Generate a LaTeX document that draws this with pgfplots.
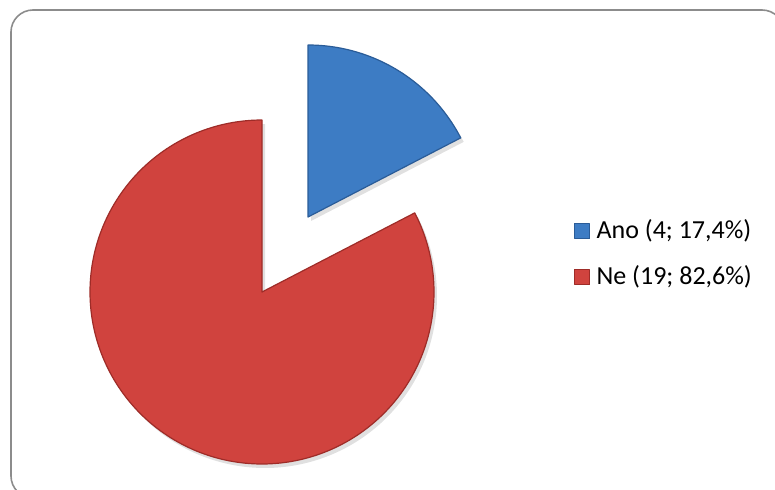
\documentclass[border=0pt]{standalone}
\usepackage{pgfplots}
\pgfplotsset{compat=1.18}
\usepackage{pgfplotstable}
\usepackage{fontspec}
\setmainfont{Carlito}
\definecolor{anoblue}{RGB}{61,124,196}
\definecolor{anoedge}{RGB}{42,92,152}
\definecolor{nered}{RGB}{208,67,62}
\definecolor{needge}{RGB}{158,44,40}
\definecolor{framegray}{RGB}{140,140,140}
\pgfplotstableread{
label value
Ano 4
Ne 19
}\piedata
\begin{document}
\begin{tikzpicture}
\pgfplotstablegetelem{0}{value}\of\piedata \let\va\pgfplotsretval
\pgfplotstablegetelem{1}{value}\of\piedata \let\vb\pgfplotsretval
\pgfmathsetmacro\tot{\va+\vb}
\pgfmathsetmacro\aa{90-360*\va/\tot}
\pgfmathsetmacro\ab{\aa-360*\vb/\tot}
\useasboundingbox (0,0) rectangle (775bp,490bp);
\begin{axis}[at={(0,0)}, anchor=south west, scale only axis,
  width=775bp, height=490bp, xmin=0, xmax=775, ymin=0, ymax=490,
  axis lines=none, clip=false,
  legend cell align=left,
  legend style={at={(0.7368,0.4816)}, anchor=west, draw=none, fill=none,
    font=\fontsize{26bp}{30bp}\selectfont, row sep=22bp,
    nodes={inner sep=0pt, text height=19bp, text depth=5bp}},
  legend image code/.code={\draw[#1, line width=0.8bp] (0bp,-7.5bp) rectangle (15bp,7.5bp);
    \path[draw=none, fill=none] (15bp,0bp) -- (22bp,0bp);},
]
% frame
\draw[framegray, line width=1.6bp, rounded corners=22bp] (axis cs:11,-8) rectangle (axis cs:784,480);
% shadows
\addplot[forget plot, draw=none, fill=black, opacity=0.12, domain=\aa:90, samples=90, variable=\t]
  ({311+172*cos(\t)},{269+172*sin(\t)}) -- (axis cs:311,269) -- cycle;
\addplot[forget plot, draw=none, fill=black, opacity=0.12, domain=\ab:\aa, samples=240, variable=\t]
  ({265+172*cos(\t)},{194+172*sin(\t)}) -- (axis cs:265,194) -- cycle;
% slices
\addplot[fill=anoblue, draw=anoedge, line width=1.2bp, line join=round, domain=\aa:90, samples=90, variable=\t]
  ({308+172*cos(\t)},{273+172*sin(\t)}) -- (axis cs:308,273) -- cycle;
\addlegendentry{Ano (4; 17,4\%)}
\addplot[fill=nered, draw=needge, line width=1.2bp, line join=round, domain=\ab:\aa, samples=240, variable=\t]
  ({262+172*cos(\t)},{198+172*sin(\t)}) -- (axis cs:262,198) -- cycle;
\addlegendentry{Ne (19; 82,6\%)}
\end{axis}
\end{tikzpicture}
\end{document}
